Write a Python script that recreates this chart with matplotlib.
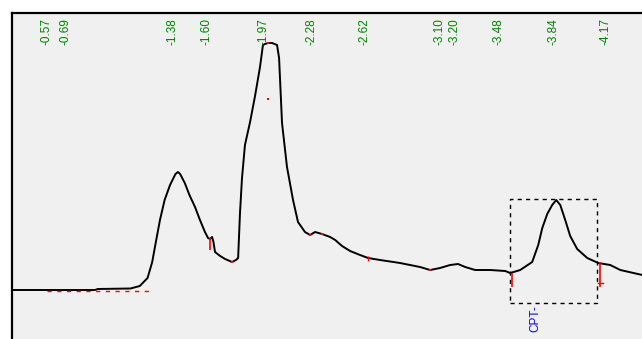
from matplotlib import pyplot as plt
from matplotlib.patches import Rectangle

# retention time (min) and detector signal
time = [0.35, 0.88, 0.90, 1.11, 1.17, 1.22, 1.25, 1.27, 1.30, 1.33, 1.365, 1.40, 1.416, 1.43,
        1.46, 1.49, 1.526, 1.558, 1.59, 1.61, 1.623, 1.636, 1.645, 1.655, 1.688, 1.72, 1.765,
        1.79, 1.804, 1.816, 1.829, 1.848, 1.881, 1.913, 1.945, 1.964, 1.977, 1.997, 2.023,
        2.055, 2.068, 2.087, 2.119, 2.158, 2.19, 2.235, 2.268, 2.30, 2.345, 2.397, 2.43,
        2.474, 2.526, 2.59, 2.642, 2.719, 2.848, 2.977, 3.042, 3.106, 3.171, 3.222, 3.268,
        3.332, 3.429, 3.526, 3.558, 3.623, 3.70, 3.739, 3.765, 3.797, 3.829, 3.855, 3.881,
        3.913, 3.945, 3.99, 4.055, 4.126, 4.203, 4.268, 4.41]
signal = [0, 0, 1, 1.5, 4, 12, 28, 45, 70, 90, 105, 116, 118, 116,
          107, 95, 83, 70, 58, 52, 51, 53, 48, 38, 34, 31, 28,
          30, 32, 77, 112, 145, 168, 194, 223, 245, 246, 247, 247,
          245, 232, 167, 123, 90, 68, 58, 55, 58, 56, 53, 50,
          44, 39, 35, 32, 30, 27, 23, 20, 22, 25, 26, 23,
          20, 20, 19, 17, 20, 28, 45, 62, 76, 85, 90, 85,
          70, 54, 41, 32, 27, 25, 20, 15]

peak_times = [0.57, 0.69, 1.38, 1.60, 1.97, 2.28, 2.62, 3.10, 3.20, 3.48, 3.84, 4.17]

# integration marks
mark_times = [1.623, 3.571, 4.14]
mark_top = [52, 17, 28]
mark_bottom = [40, 3, 3]
dot_times = [1.765, 1.997, 1.997, 2.268, 2.345, 3.042]
dot_values = [28, 247, 191, 55, 56, 20]

# CPT window
cpt_start, cpt_end = 3.558, 4.119
cpt_low, cpt_high = -13, 91

plt.rcParams['font.family'] = ['Liberation Sans', 'DejaVu Sans']

fig = plt.figure(figsize=(6.42, 3.39), dpi=100)
ax = fig.add_axes([12 / 642, 0, 630 / 642, 326 / 339])
ax.set_facecolor('#f0f0f0')

ax.plot(time, signal, color='black', lw=1.4)

# baseline markers
ax.plot([0.57, 1.25], [-0.5, -0.5], color='red', lw=1, dashes=(3, 4))
ax.vlines(mark_times, mark_bottom, mark_top, color='red', lw=1.2)
ax.plot([4.125, 4.155], [7, 7], color='red', lw=1)
ax.plot(dot_times, dot_values, 's', color='red', ms=1.5, mew=0)
ax.vlines([2.642], [29], [34], color='red', lw=1)

ax.add_patch(Rectangle((cpt_start, cpt_low), cpt_end - cpt_start, cpt_high - cpt_low,
                       fill=False, ls=(0, (3, 3)), lw=1, color='black'))
ax.text(3.719, -15, 'CPT-', rotation=90, ha='center', va='top', color='#0000ff', fontsize=8.5)

for t in peak_times:
    ax.text(t, 272, '-%.2f' % t, rotation=90, ha='center', va='top', color='green', fontsize=8.5)

ax.set_xlim(0.346, 4.408)
ax.set_ylim(-49, 277)
ax.set_xticks([])
ax.set_yticks([])
ax.spines['right'].set_visible(False)
ax.spines['bottom'].set_visible(False)
ax.spines['left'].set_linewidth(1.6)
ax.spines['top'].set_linewidth(1.6)

fig.savefig('out.png')
